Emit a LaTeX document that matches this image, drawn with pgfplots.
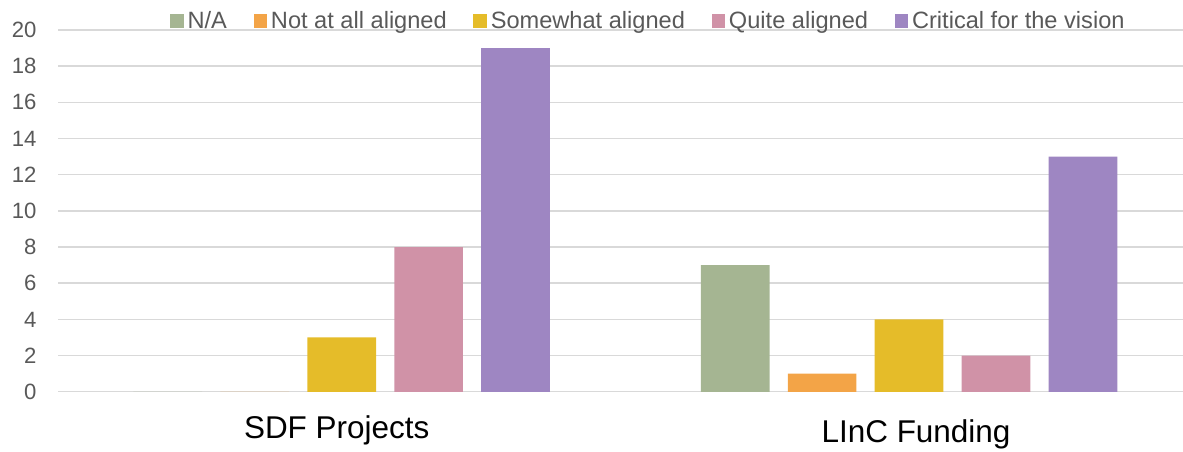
\documentclass[border=0pt]{standalone}
\usepackage{pgfplots}
\pgfplotsset{compat=1.18}
\usepackage{fontspec}
\setmainfont{Liberation Sans}

\definecolor{cNA}{HTML}{A5B592}
\definecolor{cNot}{HTML}{F3A447}
\definecolor{cSome}{HTML}{E5BC29}
\definecolor{cQuite}{HTML}{D092A7}
\definecolor{cCrit}{HTML}{9E86C2}
\definecolor{txtgray}{HTML}{595959}
\definecolor{gridgray}{HTML}{D9D9D9}

\begin{document}
\begin{tikzpicture}
\begin{axis}[
  scale only axis,
  width=851pt, height=271.3pt,
  ybar=13.7pt, bar width=51.5pt,
  xmin=-0.5, xmax=1.5,
  ymin=0, ymax=20,
  ytick={0,2,...,20},
  xtick={-0.0088,1.0123},
  xticklabels={SDF Projects,\raisebox{-3.3pt}{LInC Funding}},
  xticklabel style={anchor=base, yshift=-35pt, font=\fontsize{23.6}{28}\selectfont, text=black},
  yticklabel style={anchor=east, inner sep=0pt, xshift=-16pt, font=\fontsize{16.6}{20}\selectfont, text=txtgray},
  /pgf/number format/assume math mode=true,
  major tick length=0pt,
  axis line style={draw=none},
  ymajorgrids,
  major grid style={draw=gridgray, line width=1.1pt},
  legend columns=5,
  legend image code/.code={\fill[#1] (0pt,-5pt) rectangle (10pt,5pt);},
  legend style={
    draw=none, fill=none,
    at={(0.0952,1.025)}, anchor=west,
    font=\fontsize{17.7}{21}\selectfont, text=txtgray,
    nodes={inner sep=1.5pt},
    /tikz/every odd column/.append style={column sep=1.5pt},
    /tikz/every even column/.append style={column sep=18.5pt},
  },
]
\addplot[fill=cNA, draw=none] coordinates {(0,0) (1,7)};
\addplot[fill=cNot, draw=none] coordinates {(0,0) (1,1)};
\addplot[fill=cSome, draw=none] coordinates {(0,3) (1,4)};
\addplot[fill=cQuite, draw=none] coordinates {(0,8) (1,2)};
\addplot[fill=cCrit, draw=none] coordinates {(0,19) (1,13)};
\legend{N/A, Not at all aligned, Somewhat aligned, Quite aligned, Critical for the vision}
\end{axis}
\pgfresetboundingbox
\path[use as bounding box] ([shift={(-43.5pt,-44.5pt)}]current axis.south west) rectangle ([shift={(-7.3pt,22.5pt)}]current axis.north east);
\end{tikzpicture}
\end{document}
